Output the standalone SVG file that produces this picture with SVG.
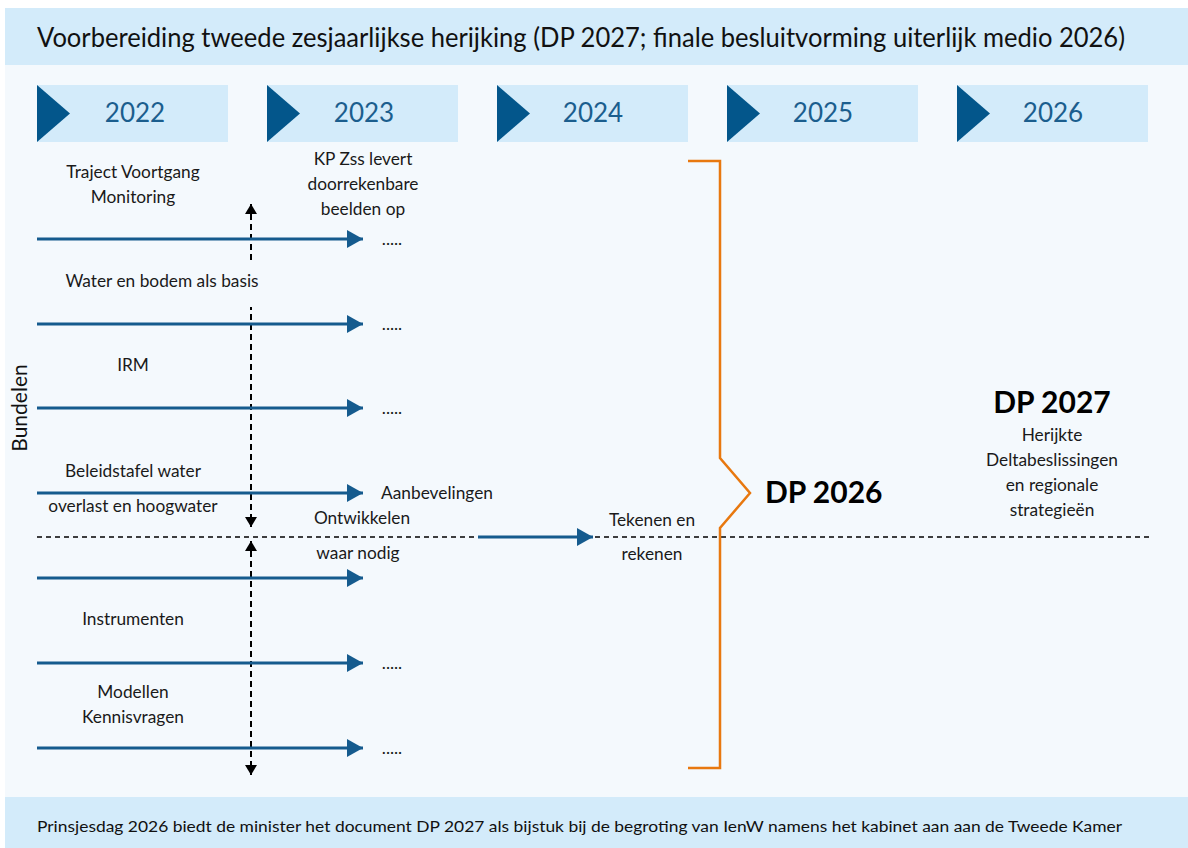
<svg xmlns="http://www.w3.org/2000/svg" width="1188" height="848" viewBox="0 0 1188 848">
<defs>
<style>
.t{font-family:Lato,"Open Sans","Liberation Sans",sans-serif;font-size:17.3px;fill:#1a1a1a;text-anchor:middle}
.yr{font-family:Lato,"Open Sans","Liberation Sans",sans-serif;font-size:26px;fill:#1b5e8e;text-anchor:middle}
.big{font-family:Lato,"Open Sans","Liberation Sans",sans-serif;font-size:30px;font-weight:bold;fill:#000}
.ybox{fill:#d3ebfa}
.tri{fill:#03568b}
.bl{stroke:#155b8e;stroke-width:3;fill:none}
.dash{stroke:#000;stroke-width:2;stroke-dasharray:6 4;fill:none}
.hd{stroke:#000;stroke-width:1.5;stroke-dasharray:5 4;fill:none}
</style>
<marker id="ab" viewBox="0 0 16 18" refX="16" refY="9" markerWidth="16" markerHeight="18" markerUnits="userSpaceOnUse" orient="auto">
<path d="M0,0 L16,9 L0,18 Z" fill="#155b8e"/>
</marker>
<marker id="ak" viewBox="0 0 10 12" refX="10" refY="6" markerWidth="10" markerHeight="12" markerUnits="userSpaceOnUse" orient="auto-start-reverse">
<path d="M0,0 L10,6 L0,12 Z" fill="#000"/>
</marker>
</defs>
<rect x="0" y="0" width="1188" height="848" fill="#ffffff"/>
<rect x="5" y="64" width="1183" height="734" fill="#f4f9fd"/>
<rect x="5" y="8" width="1183" height="57" fill="#d3ebfa"/>
<rect x="5" y="797" width="1183" height="51" fill="#d3ebfa"/>
<text x="37" y="47" font-family="Lato,'Open Sans','Liberation Sans',sans-serif" font-size="27" fill="#111" textLength="1088" lengthAdjust="spacingAndGlyphs">Voorbereiding tweede zesjaarlijkse herijking (DP 2027; finale besluitvorming uiterlijk medio 2026)</text>
<text x="37" y="832" font-family="Lato,'Open Sans','Liberation Sans',sans-serif" font-size="16" fill="#111" textLength="1085" lengthAdjust="spacingAndGlyphs">Prinsjesdag 2026 biedt de minister het document DP 2027 als bijstuk bij de begroting van IenW namens het kabinet aan aan de Tweede Kamer</text>

<g id="year-2022"><rect class="ybox" x="37" y="85" width="191" height="57"/><path class="tri" d="M37,85 L70,113.5 L37,142 Z"/><text class="yr" x="135" y="122">2022</text></g>
<g id="year-2023"><rect class="ybox" x="267" y="85" width="191" height="57"/><path class="tri" d="M267,85 L300,113.5 L267,142 Z"/><text class="yr" x="364" y="122">2023</text></g>
<g id="year-2024"><rect class="ybox" x="497" y="85" width="191" height="57"/><path class="tri" d="M497,85 L530,113.5 L497,142 Z"/><text class="yr" x="593" y="122">2024</text></g>
<g id="year-2025"><rect class="ybox" x="727" y="85" width="191" height="57"/><path class="tri" d="M727,85 L760,113.5 L727,142 Z"/><text class="yr" x="823" y="122">2025</text></g>
<g id="year-2026"><rect class="ybox" x="957" y="85" width="191" height="57"/><path class="tri" d="M957,85 L990,113.5 L957,142 Z"/><text class="yr" x="1053" y="122">2026</text></g>

<g id="connectors">
<line class="hd" x1="37" y1="537" x2="1150" y2="537"/>
<line class="dash" x1="251" y1="204" x2="251" y2="527" marker-start="url(#ak)" marker-end="url(#ak)"/>
<line class="dash" x1="251" y1="541" x2="251" y2="775" marker-start="url(#ak)" marker-end="url(#ak)"/>
<line class="bl" x1="37" y1="239" x2="363" y2="239" marker-end="url(#ab)"/>
<line class="bl" x1="37" y1="324" x2="363" y2="324" marker-end="url(#ab)"/>
<line class="bl" x1="37" y1="408" x2="363" y2="408" marker-end="url(#ab)"/>
<line class="bl" x1="37" y1="493" x2="363" y2="493" marker-end="url(#ab)"/>
<line class="bl" x1="37" y1="578" x2="363" y2="578" marker-end="url(#ab)"/>
<line class="bl" x1="37" y1="663" x2="363" y2="663" marker-end="url(#ab)"/>
<line class="bl" x1="37" y1="748" x2="363" y2="748" marker-end="url(#ab)"/>
<line class="bl" x1="478" y1="537" x2="593" y2="537" marker-end="url(#ab)"/>
<path d="M688,161 L720,161 L720,458 L750,493 L720,528 L720,768 L688,768" fill="none" stroke="#e8780f" stroke-width="2.5"/>
</g>

<g id="dots"><text class="t" x="392" y="245">.....</text><text class="t" x="392" y="330">.....</text><text class="t" x="392" y="414">.....</text><text class="t" x="392" y="669">.....</text><text class="t" x="392" y="754">.....</text></g>

<g id="traject"><text class="t" x="133" y="178">Traject Voortgang</text><text class="t" x="133" y="203">Monitoring</text></g>
<g id="kpzss"><text class="t" x="363" y="165">KP Zss levert</text><text class="t" x="363" y="190">doorrekenbare</text><text class="t" x="363" y="215">beelden op</text></g>
<g id="water"><rect x="60" y="263" width="205" height="44" fill="#f4f9fd"/><text class="t" x="162" y="287">Water en bodem als basis</text></g>
<g id="irm"><text class="t" x="133" y="371">IRM</text></g>
<g id="beleid"><text class="t" x="133" y="477">Beleidstafel water</text><text class="t" x="133" y="512">overlast en hoogwater</text></g>
<g id="aanbev"><text class="t" x="437" y="499">Aanbevelingen</text></g>
<g id="ontw"><text class="t" x="362" y="524">Ontwikkelen</text><text class="t" x="358" y="559">waar nodig</text></g>
<g id="tekenen"><text class="t" x="652" y="526">Tekenen en</text><text class="t" x="652" y="560">rekenen</text></g>
<g id="instr"><text class="t" x="133" y="625">Instrumenten</text></g>
<g id="modellen"><text class="t" x="133" y="698">Modellen</text><text class="t" x="133" y="723">Kennisvragen</text></g>
<g id="bundelen"><text x="27" y="408" transform="rotate(-90 27 408)" font-family="Lato,'Open Sans','Liberation Sans',sans-serif" font-size="21" fill="#111" text-anchor="middle">Bundelen</text></g>
<g id="dp2026"><text class="big" x="765" y="503">DP 2026</text></g>
<g id="dp2027"><text class="big" x="1052" y="413" text-anchor="middle">DP 2027</text><text class="t" x="1052" y="441">Herijkte</text><text class="t" x="1052" y="466">Deltabeslissingen</text><text class="t" x="1052" y="491">en regionale</text><text class="t" x="1052" y="516">strategieën</text></g>
</svg>
